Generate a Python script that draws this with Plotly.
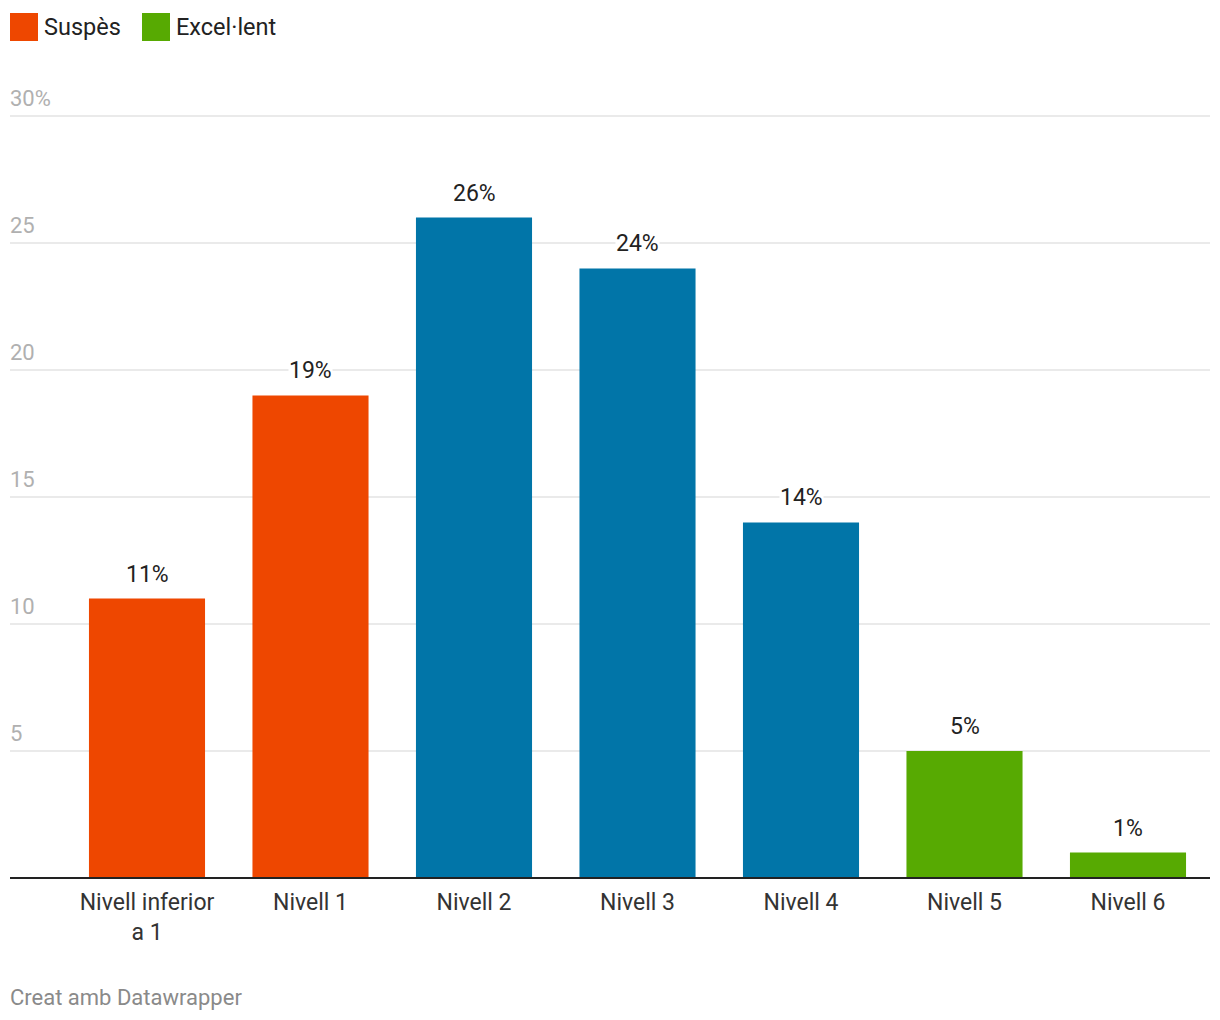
import plotly.graph_objects as go

categories = ["Nivell inferior<br>a 1", "Nivell 1", "Nivell 2", "Nivell 3", "Nivell 4", "Nivell 5", "Nivell 6"]
values = [11, 19, 26, 24, 14, 5, 1]
groups = ["Suspès", "Suspès", "mid", "mid", "mid", "Excel·lent", "Excel·lent"]
y_ticks = [5, 10, 15, 20, 25, 30]
y_tick_labels = ["5", "10", "15", "20", "25", "30%"]
legend_items = ["Suspès", "Excel·lent"]

color_map = {"Suspès": "#ee4700", "mid": "#0175a8", "Excel·lent": "#57aa02"}
FONT = "Roboto, Arial, sans-serif"

W, H = 1220, 1020
L, R, T, B = 10, 10, 116, 142
PW, PH = W - L - R, H - T - B
Y_MAX = 30

fig = go.Figure()
fig.add_trace(go.Bar(
    x=list(range(len(categories))),
    y=values,
    marker=dict(color=[color_map[g] for g in groups], line=dict(width=0)),
    width=0.71,
    hoverinfo="skip",
    showlegend=False,
))

step = 163.5
x0 = (L - 147) / step
x1 = (W - R - 147) / step

fig.update_xaxes(
    range=[x0, x1],
    tickmode="array",
    tickvals=list(range(len(categories))),
    ticktext=categories,
    tickfont=dict(family=FONT, size=23, color="#333333"),
    showgrid=False,
    zeroline=False,
    showline=False,
    ticks="",
    ticklabelstandoff=8,
)
fig.update_yaxes(
    range=[0, Y_MAX],
    showticklabels=False,
    showgrid=False,
    zeroline=False,
    showline=False,
)

shapes = []
annotations = []
# gridlines (paper-referenced so the top one is not clipped)
for v in y_ticks:
    shapes.append(dict(type="line", xref="paper", yref="paper", x0=0, x1=1,
                       y0=v / Y_MAX, y1=v / Y_MAX,
                       layer="below", line=dict(color="#e3e3e3", width=1.5)))
shapes.append(dict(type="line", xref="paper", yref="paper", x0=0, x1=1, y0=0, y1=0,
                   line=dict(color="#222222", width=2)))
for v, t in zip(y_ticks, y_tick_labels):
    annotations.append(dict(xref="paper", yref="y", x=0, y=v, text=t, showarrow=False,
                            xanchor="left", yanchor="bottom", yshift=3, xshift=-2,
                            font=dict(family=FONT, size=22, color="#b0b0b0")))

# value labels
for i, v in enumerate(values):
    annotations.append(dict(xref="x", yref="y", x=i, y=v, text=f"{v}%", showarrow=False,
                            xanchor="center", yanchor="bottom", yshift=10,
                            bgcolor="white", borderpad=0,
                            font=dict(family=FONT, size=23, color="#222222")))

# legend (drawn manually)
leg_x = [10, 142]
for i, name in enumerate(legend_items):
    xp = leg_x[i]
    shapes.append(dict(type="rect", xref="paper", yref="paper",
                       x0=(xp - L) / PW, x1=(xp + 28 - L) / PW,
                       y0=1 + (T - 41) / PH, y1=1 + (T - 13) / PH,
                       fillcolor=color_map[name], line=dict(width=0)))
    annotations.append(dict(xref="paper", yref="paper",
                            x=(xp + 32 - L) / PW, y=1 + (T - 27) / PH,
                            text=name, showarrow=False, xanchor="left", yanchor="middle",
                            font=dict(family=FONT, size=23.5, color="#222222")))

annotations.append(dict(xref="paper", yref="paper", x=0, y=-(997 - (H - B)) / PH,
                        text="Creat amb Datawrapper", showarrow=False,
                        xanchor="left", yanchor="middle", xshift=-2,
                        font=dict(family=FONT, size=22, color="#8a8a8a")))

fig.update_layout(
    width=W, height=H,
    margin=dict(l=L, r=R, t=T, b=B),
    paper_bgcolor="white",
    plot_bgcolor="white",
    shapes=shapes,
    annotations=annotations,
    font=dict(family=FONT),
    bargap=0.29,
)

fig.write_html("out.html", config={"displayModeBar": False},
               post_script="document.body.style.margin='0';document.body.style.overflow='hidden';")
